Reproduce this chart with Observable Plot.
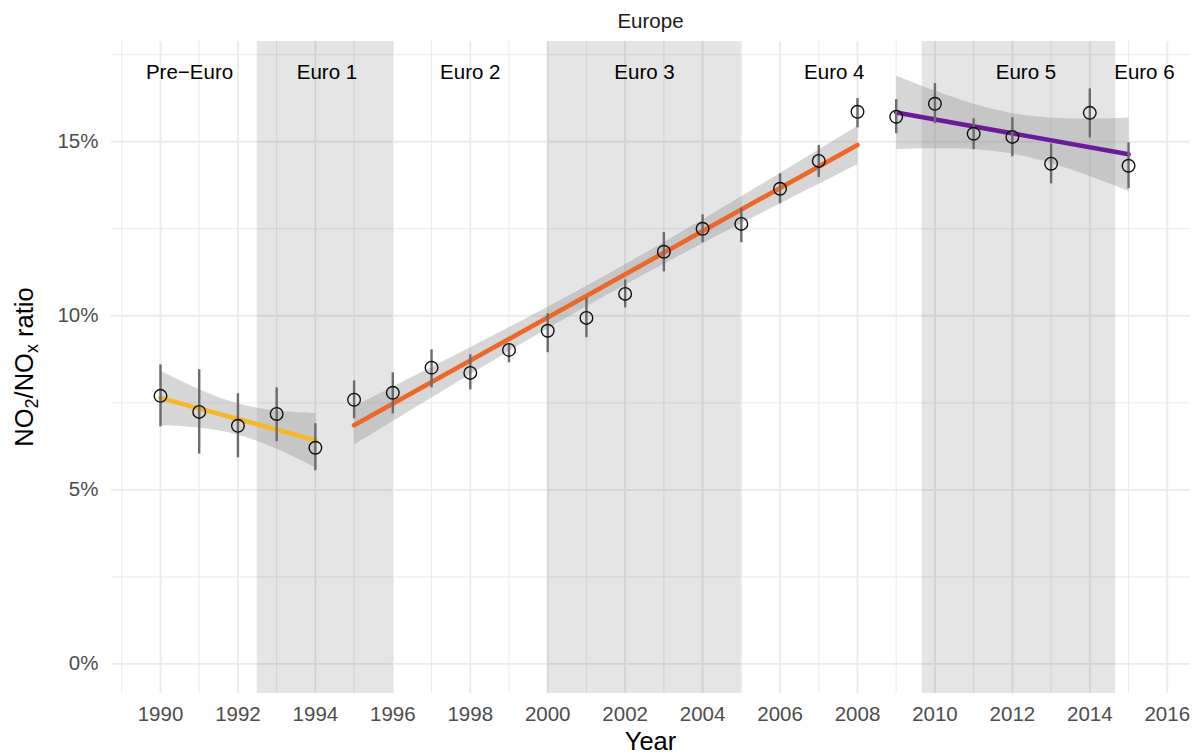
<!DOCTYPE html>
<html><head><meta charset="utf-8">
<script src="https://cdn.jsdelivr.net/npm/d3@7"></script>
<script src="https://cdn.jsdelivr.net/npm/@observablehq/plot@0.6"></script>
<style>body{margin:0;background:#fff} svg{display:block}</style>
</head><body><div id="chart"></div>
<script>
const years = [1990,1991,1992,1993,1994,1995,1996,1997,1998,1999,2000,2001,2002,2003,2004,2005,2006,2007,2008,2009,2010,2011,2012,2013,2014,2015];
const ratio = [7.70,7.24,6.84,7.18,6.21,7.59,7.79,8.51,8.36,9.02,9.57,9.94,10.63,11.84,12.50,12.64,13.65,14.45,15.86,15.72,16.09,15.23,15.14,14.37,15.83,14.31];
const lower = [6.81,6.03,5.92,6.38,5.55,7.04,7.18,7.93,7.87,8.65,8.94,9.37,10.23,11.26,12.10,12.10,13.22,13.97,15.40,15.23,15.52,14.77,14.57,13.79,15.11,13.65];
const upper = [8.59,8.45,7.76,7.93,6.90,8.13,8.36,9.02,8.88,9.20,10.06,10.52,11.03,12.39,12.90,13.10,14.08,14.89,16.24,16.21,16.67,15.66,15.69,14.94,16.52,14.97];
const trendGroup = ["pre","pre","pre","pre","pre","mid","mid","mid","mid","mid","mid","mid","mid","mid","mid","mid","mid","mid","mid","late","late","late","late","late","late","late"];
const groups = ["pre","mid","late"];
const groupColors = ["#F6B829","#EB6828","#6A1B9A"];

const zoneStart = [1992.5, 2000, 2009.67];
const zoneEnd = [1996, 2005, 2014.67];

const periodLabels = ["Pre\u2212Euro","Euro 1","Euro 2","Euro 3","Euro 4","Euro 5","Euro 6"];
const periodLabelX = [1990.75,1994.3,1998,2002.5,2007.4,2012.35,2015.41];
const periodLabelLevel = 17;

const majorX = [1990,1992,1994,1996,1998,2000,2002,2004,2006,2008,2010,2012,2014,2016];
const minorX = [1989,1991,1993,1995,1997,1999,2001,2003,2005,2007,2009,2011,2013,2015];
const majorY = [0,5,10,15];
const minorY = [2.5,7.5,12.5,17.5];

const rows = years.map((y, i) => ({year: y, ratio: ratio[i], lower: lower[i], upper: upper[i], group: trendGroup[i]}));
const zones = zoneStart.map((s, i) => ({start: s, end: zoneEnd[i]}));
const labels = periodLabels.map((t, i) => ({text: t, x: periodLabelX[i], y: periodLabelLevel}));

const W = 1196, H = 753, mL = 111, mR = 6, mT = 41, mB = 60;
const font = "'Liberation Sans', Arial, Helvetica, sans-serif";

const svg = Plot.plot({
  width: W, height: H,
  marginLeft: mL, marginRight: mR, marginTop: mT, marginBottom: mB,
  style: {fontFamily: font, fontSize: "20.5px", background: "#fff", overflow: "visible"},
  x: {domain: [1988.735, 2016.6], axis: null},
  y: {domain: [-0.85, 17.88], axis: null},
  color: {domain: groups, range: groupColors},
  marks: [
    Plot.ruleX(minorX, {x: d => d, stroke: "#ebebeb", strokeWidth: 1}),
    Plot.ruleY(minorY, {y: d => d, stroke: "#ebebeb", strokeWidth: 1}),
    Plot.ruleX(majorX, {x: d => d, stroke: "#ebebeb", strokeWidth: 1.9}),
    Plot.ruleY(majorY, {y: d => d, stroke: "#ebebeb", strokeWidth: 1.9}),
    Plot.rect(zones, {x1: "start", x2: "end", fill: "#000", fillOpacity: 0.1}),
    Plot.linearRegressionY(rows, {x: "year", y: "ratio", z: "group", stroke: "group", fill: "#999", fillOpacity: 0.4, strokeWidth: 4.6, ci: 0.95}),
    Plot.ruleX(rows, {x: "year", y1: "lower", y2: "upper", stroke: "#6b6b6b", strokeWidth: 2.4}),
    Plot.dot(rows, {x: "year", y: "ratio", r: 6.3, stroke: "#111", strokeWidth: 1.4, fill: "none"}),
    Plot.text(labels, {x: "x", y: "y", text: "text", fill: "#000"}),
    Plot.text(majorX, {x: d => d, frameAnchor: "bottom", lineAnchor: "top", dy: 13, text: d => String(d), fill: "#4d4d4d"}),
    Plot.text(majorY, {y: d => d, frameAnchor: "left", textAnchor: "end", dx: -13, text: d => d + "%", fill: "#4d4d4d"})
  ]
});
document.getElementById("chart").appendChild(svg);

const s = d3.select(svg);
const cx = mL + (W - mL - mR) / 2;
const cy = mT + (H - mT - mB) / 2;
s.append("text").attr("x", cx).attr("y", 28).attr("text-anchor", "middle")
  .attr("fill", "#1a1a1a").style("font-family", font).style("font-size", "20.5px").text("Europe");
s.append("text").attr("x", cx).attr("y", 750).attr("text-anchor", "middle")
  .attr("fill", "#000").style("font-family", font).style("font-size", "25.5px").text("Year");
const yt = s.append("text").attr("transform", `translate(33,${cy}) rotate(-90)`).attr("text-anchor", "middle")
  .attr("fill", "#000").style("font-family", font).style("font-size", "25.5px");
yt.append("tspan").text("NO");
yt.append("tspan").attr("dy", "5").style("font-size", "18px").text("2");
yt.append("tspan").attr("dy", "-5").text("/NO");
yt.append("tspan").attr("dy", "5").style("font-size", "18px").text("x");
yt.append("tspan").attr("dy", "-5").text(" ratio");
</script>
</body></html>
